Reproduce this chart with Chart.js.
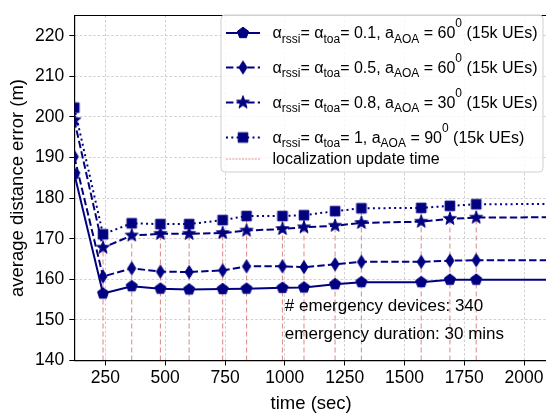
<!DOCTYPE html>
<html><head><meta charset="utf-8">
<script src="https://cdn.jsdelivr.net/npm/chart.js@4/dist/chart.umd.min.js"></script>
<style>html,body{margin:0;padding:0;overflow:hidden;background:#fff;width:546px;height:415px}canvas{display:block}</style>
</head><body>
<canvas id="c" width="556" height="415"></canvas>
<script>
// ---- data ----
const times      = [120, 240, 360, 480, 600, 740, 840, 990, 1080, 1210, 1320, 1570, 1690, 1800, 2400];
const series01   = [186.0, 156.5, 158.3, 157.7, 157.5, 157.6, 157.7, 157.9, 158.0, 158.8, 159.3, 159.3, 159.9, 159.9, 159.9];
const series05   = [190.2, 160.7, 162.7, 161.9, 161.8, 162.2, 163.2, 163.2, 163.0, 163.7, 164.3, 164.3, 164.6, 164.7, 164.7];
const series08   = [199.2, 167.8, 170.8, 171.2, 171.2, 171.4, 172.0, 172.4, 172.8, 173.2, 173.9, 174.2, 174.9, 175.2, 175.4];
const series1    = [202.3, 171.1, 173.8, 173.6, 173.6, 174.6, 175.6, 175.6, 175.8, 176.8, 177.5, 177.6, 178.1, 178.5, 178.6];
const updateTimes = [240, 360, 480, 600, 740, 840, 990, 1080, 1210, 1320, 1570, 1690, 1800];
const xTickValues = [250, 500, 750, 1000, 1250, 1500, 1750, 2000];
const yTickValues = [140, 150, 160, 170, 180, 190, 200, 210, 220];
const alphaValues = ['0.1', '0.5', '0.8', '1'];
const aoaValues   = ['60', '60', '30', '90'];
const updateLabel = 'localization update time';
const annotTexts  = ['# emergency devices: 340', 'emergency duration: 30 mins'];
const annotX = 1000;
const annotY = [153.3, 146.4];
const xTitle = 'time (sec)';
const yTitle = 'average distance error (m)';

const NAVY = '#000080';
const FONT = "'Liberation Sans', Arial, sans-serif";
Chart.defaults.font.family = FONT;
Chart.defaults.color = '#000';

// ---- markers ----
function makeMarker(kind){
  const c = document.createElement('canvas');
  const s = 16; c.width = s; c.height = s;
  const g = c.getContext('2d');
  g.fillStyle = NAVY; g.strokeStyle = NAVY; g.lineWidth = 1;
  const cx = s/2, cy = s/2;
  g.beginPath();
  if (kind === 'pent'){
    for (let k=0;k<5;k++){ const a = -Math.PI/2 + k*2*Math.PI/5; const r=5.8; g.lineTo(cx+r*Math.cos(a), cy+r*Math.sin(a)); }
  } else if (kind === 'dia'){
    g.moveTo(cx, cy-6.5); g.lineTo(cx+4.1, cy); g.lineTo(cx, cy+6.5); g.lineTo(cx-4.1, cy);
  } else if (kind === 'star'){
    for (let k=0;k<10;k++){ const a = -Math.PI/2 + k*Math.PI/5; const r = k%2? 2.8 : 6.8; g.lineTo(cx+r*Math.cos(a), cy+r*Math.sin(a)); }
  } else {
    g.rect(cx-4.8, cy-4.8, 9.6, 9.6);
  }
  g.closePath(); g.fill(); g.stroke();
  return c;
}
const markers = [makeMarker('pent'), makeMarker('dia'), makeMarker('star'), makeMarker('sq')];
const dashes = [[], [7.4, 3.2], [7.4, 3.2], [2, 3.3]];
const allSeries = [series01, series05, series08, series1];

const datasets = allSeries.map((arr, i) => ({
  label: 'series' + i,
  data: times.map((t, j) => ({x: t, y: arr[j]})),
  borderColor: NAVY, backgroundColor: NAVY, borderWidth: 2,
  borderDash: dashes[i], pointStyle: markers[i], pointRadius: 6,
  tension: 0, order: 1
}));

// red update lines (reach the top series value)
const redData = [];
updateTimes.forEach(t => {
  const idx = times.indexOf(t);
  redData.push({x: t, y: 140}, {x: t, y: series1[idx]}, {x: t, y: null});
});
datasets.push({
  label: updateLabel, data: redData, borderColor: 'rgba(205,70,70,0.6)', borderWidth: 1.1,
  borderDash: [5, 3], pointRadius: 0, spanGaps: false, order: 10
});

// clip all dataset drawing to the plot area
const clipper = {
  id: 'clipper',
  beforeDatasetsDraw(chart){
    const {ctx, chartArea: a} = chart;
    ctx.save(); ctx.beginPath(); ctx.rect(a.left, a.top, a.right - a.left, a.bottom - a.top); ctx.clip();
  },
  afterDatasetsDraw(chart){ chart.ctx.restore(); }
};

// ---- custom drawing ----
const overlay = {
  id: 'overlay',
  afterDatasetsDraw(chart){
    const {ctx, chartArea: a, scales: {x, y}} = chart;
    ctx.save();
    // spines top & right
    ctx.strokeStyle = '#000'; ctx.lineWidth = 1.2;
    ctx.beginPath(); ctx.moveTo(a.left, a.top); ctx.lineTo(a.right, a.top); ctx.lineTo(a.right, a.bottom); ctx.stroke();
    // annotations
    ctx.fillStyle = '#000'; ctx.font = '17px ' + FONT; ctx.textBaseline = 'middle'; ctx.textAlign = 'left';
    annotTexts.forEach((t, i) => ctx.fillText(t, x.getPixelForValue(annotX), y.getPixelForValue(annotY[i])));
    // legend box
    const L = 221, T = 15, R = 543, B = 172, rad = 4;
    ctx.beginPath();
    ctx.moveTo(L+rad, T); ctx.lineTo(R-rad, T); ctx.arcTo(R, T, R, T+rad, rad);
    ctx.lineTo(R, B-rad); ctx.arcTo(R, B, R-rad, B, rad);
    ctx.lineTo(L+rad, B); ctx.arcTo(L, B, L, B-rad, rad);
    ctx.lineTo(L, T+rad); ctx.arcTo(L, T, L+rad, T, rad); ctx.closePath();
    ctx.fillStyle = 'rgba(255,255,255,0.82)'; ctx.fill();
    ctx.strokeStyle = '#cfcfcf'; ctx.lineWidth = 1; ctx.stroke();
    const baselines = [38, 72.5, 107.5, 142.5, 163.5];
    const sx0 = 226, sx1 = 260, tx = 272.5;
    ctx.textBaseline = 'alphabetic';
    for (let i = 0; i < 4; i++){
      const by = baselines[i], ly = by - 5;
      ctx.strokeStyle = NAVY; ctx.lineWidth = 2; ctx.setLineDash(dashes[i]);
      ctx.beginPath(); ctx.moveTo(sx0, ly); ctx.lineTo(sx1, ly); ctx.stroke();
      ctx.setLineDash([]);
      const m = markers[i]; ctx.drawImage(m, (sx0+sx1)/2 - m.width/2, ly - m.height/2);
      const segs = [['α','n'],['rssi','sub'],['= ','n'],['α','n'],['toa','sub'],['= ' + alphaValues[i] + ', a','n'],['AOA','sub'],[' = ' + aoaValues[i],'n'],['0','sup'],[' (15k UEs)','n']];
      let cx = tx;
      ctx.fillStyle = '#000';
      segs.forEach(([t, k]) => {
        ctx.font = (k === 'n' ? '16px ' : '12px ') + FONT;
        const dy = k === 'sub' ? 4.5 : (k === 'sup' ? -11 : 0);
        ctx.fillText(t, cx, by + dy);
        cx += ctx.measureText(t).width;
      });
    }
    // red legend entry
    const ly5 = baselines[4] - 4.5;
    ctx.strokeStyle = 'rgba(205,70,70,0.6)'; ctx.lineWidth = 1.1; ctx.setLineDash([2, 1.2]);
    ctx.beginPath(); ctx.moveTo(sx0, ly5); ctx.lineTo(sx1, ly5); ctx.stroke(); ctx.setLineDash([]);
    ctx.fillStyle = '#000'; ctx.font = '16px ' + FONT;
    ctx.fillText(updateLabel, tx, baselines[4]);
    ctx.restore();
  }
};

new Chart(document.getElementById('c'), {
  type: 'line',
  data: {datasets},
  options: {
    responsive: false, animation: false, devicePixelRatio: 1,
    layout: {padding: {top: 4.5, right: 5, left: 0, bottom: 0}},
    plugins: {legend: {display: false}, tooltip: {enabled: false}},
    scales: {
      x: {
        type: 'linear', min: 120, max: 2100,
        afterBuildTicks: s => { s.ticks = xTickValues.map(v => ({value: v})); },
        afterFit: s => { s.height = 54.5; },
        ticks: {font: {size: 17.5}, color: '#000', padding: 2, maxRotation: 0, autoSkip: false, callback: v => String(v)},
        grid: {color: '#c4c4c4', lineWidth: 0.8, tickColor: '#000', tickLength: 5, tickWidth: 1, tickBorderDash: [], borderDash: [2.5, 2]},
        border: {color: '#000', width: 1.2, dash: [2.5, 2]},
        title: {display: true, text: xTitle, font: {size: 18.5}, color: '#000', padding: {top: 0, bottom: 0}}
      },
      y: {
        type: 'linear', min: 140, max: 225,
        afterBuildTicks: s => { s.ticks = yTickValues.map(v => ({value: v})); },
        afterFit: s => { s.width = 74.3; },
        ticks: {font: {size: 17.5}, color: '#000', padding: 5, autoSkip: false, callback: v => String(v)},
        grid: {color: '#c4c4c4', lineWidth: 0.8, tickColor: '#000', tickLength: 5, tickWidth: 1, tickBorderDash: [], borderDash: [2.5, 2]},
        border: {color: '#000', width: 1.2, dash: [2.5, 2]},
        title: {display: true, text: yTitle, font: {size: 18.5}, color: '#000', padding: {top: 7, bottom: 0}}
      }
    }
  },
  plugins: [clipper, overlay]
});
</script>
</body></html>
